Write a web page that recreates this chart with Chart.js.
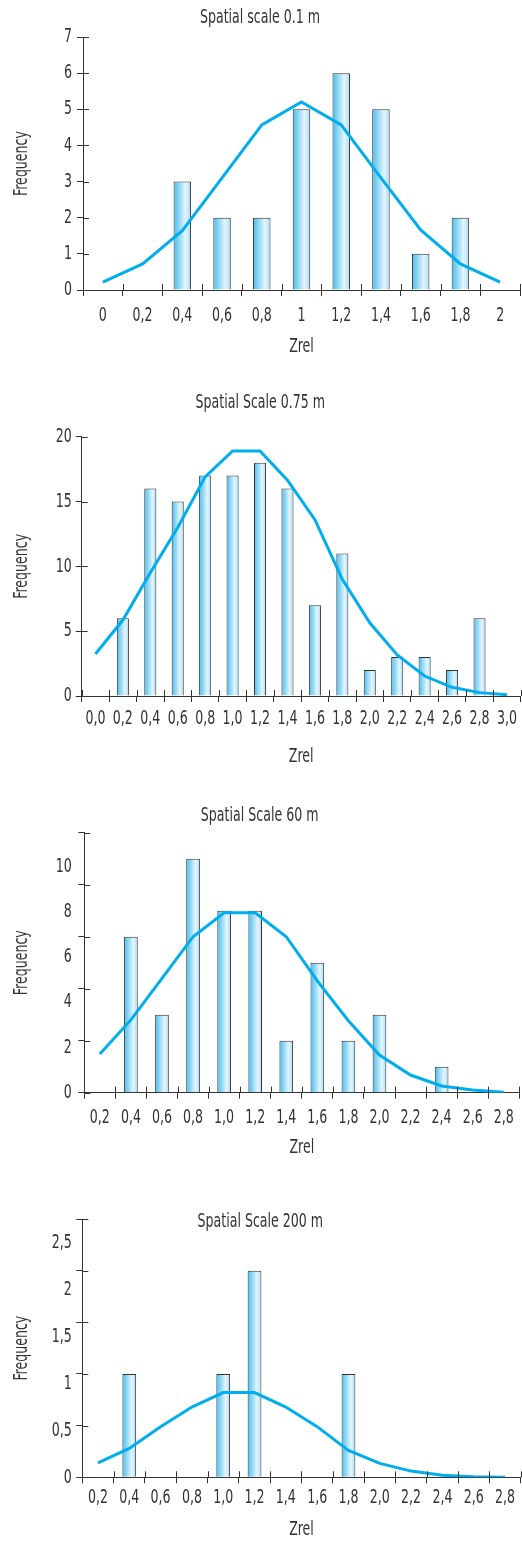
<!DOCTYPE html>
<html>
<head>
<meta charset="utf-8">
<script src="https://cdn.jsdelivr.net/npm/chart.js@4.4.1/dist/chart.umd.min.js"></script>
<style>
html,body{margin:0;padding:0;background:#fff;}
body{width:522px;height:1542px;position:relative;overflow:hidden;}
.box{position:absolute;left:0;width:522px;}
</style>
</head>
<body>
<div class="box" style="top:0px;height:357px"><canvas id="c1"></canvas></div>
<div class="box" style="top:360px;height:407px"><canvas id="c2"></canvas></div>
<div class="box" style="top:770px;height:388px"><canvas id="c3"></canvas></div>
<div class="box" style="top:1160px;height:380px"><canvas id="c4"></canvas></div>
<script>
// ---------- data ----------
const labels01 = ['0','0,2','0,4','0,6','0,8','1','1,2','1,4','1,6','1,8','2'];
const freq01 = [0,0,3,2,2,5,6,5,1,2,0];
const normal01 = [0.22,0.72,1.64,3.1,4.57,5.2,4.57,3.1,1.66,0.72,0.22];
const yLabels01 = ['0','1','2','3','4','5','6','7'];

const labels075 = ['0,0','0,2','0,4','0,6','0,8','1,0','1,2','1,4','1,6','1,8','2,0','2,2','2,4','2,6','2,8','3,0'];
const freq075 = [0,6,16,15,17,17,18,16,7,11,2,3,3,2,6,0];
const normal075 = [3.24,5.86,9.5,13.0,16.9,18.9,18.9,16.65,13.6,9.0,5.65,3.16,1.54,0.67,0.26,0.1];
const yLabels075 = ['0','5','10','15','20'];

const labels60 = ['0,2','0,4','0,6','0,8','1,0','1,2','1,4','1,6','1,8','2,0','2,2','2,4','2,6','2,8'];
const freq60 = [0,6,3,9,7,7,2,5,2,3,0,1,0,0];
const normal60 = [1.49,2.8,4.4,6.0,6.92,6.92,6.0,4.3,2.77,1.45,0.68,0.26,0.1,0.02];
const yLabels60 = ['0','2','4','6','8','10'];

const labels200 = ['0,2','0,4','0,6','0,8','1,0','1,2','1,4','1,6','1,8','2,0','2,2','2,4','2,6','2,8'];
const freq200 = [0,1,0,0,1,2,0,0,1,0,0,0,0,0];
const normal200 = [0.14,0.28,0.49,0.68,0.82,0.82,0.68,0.49,0.26,0.135,0.06,0.02,0.005,0];
const yLabels200 = ['0','0,5','1','1,5','2','2,5'];

// ---------- style ----------
const FONT = '"DejaVu Sans Condensed","DejaVu Sans",sans-serif';
const TXT = '#333333';
const AXIS = '#333333';
const LINE = '#00aeef';
const BAR_PCT = 0.44;
const TICK = 6;
const TICK_SIZE = 20;
const TITLE_SIZE = 20;
const SQUEEZE = 0.7;   // narrow the glyphs to imitate a condensed face

function condense(canvas, sx) {
  const c = canvas.getContext('2d');
  const ft = c.fillText.bind(c), mt = c.measureText.bind(c);
  c.fillText = function (t, x, y, mw) {
    this.save();
    this.translate(x, y);
    this.scale(sx, 1);
    if (mw === undefined || mw === null) ft(t, 0, 0); else ft(t, 0, 0, mw / sx);
    this.restore();
  };
  c.measureText = function (t) {
    const m = mt(t);
    return {width: m.width * sx,
            actualBoundingBoxAscent: m.actualBoundingBoxAscent,
            actualBoundingBoxDescent: m.actualBoundingBoxDescent,
            actualBoundingBoxLeft: m.actualBoundingBoxLeft * sx,
            actualBoundingBoxRight: m.actualBoundingBoxRight * sx};
  };
  return canvas;
}

function barFill(ctx) {
  const ch = ctx.chart, xs = ch.scales.x;
  if (ctx.type !== 'data' || !ch.chartArea || !xs) return '#8fd8f5';
  const n = xs.getLabels().length;
  const cx = xs.getPixelForValue(ctx.dataIndex);
  const w = xs.width / n * BAR_PCT;
  const g = ch.ctx.createLinearGradient(cx - w / 2, 0, cx + w / 2, 0);
  g.addColorStop(0, '#45bdee');
  g.addColorStop(0.68, '#e4f5fd');
  g.addColorStop(1, '#a6dcf4');
  return g;
}

const crossTicks = {
  id: 'crossTicks',
  afterDraw(chart) {
    const c = chart.ctx;
    const xs = chart.scales.x, ys = chart.scales.y;
    c.save();
    c.strokeStyle = AXIS; c.lineWidth = 1;
    c.beginPath();
    const n = xs.getLabels().length;
    for (let i = 0; i <= n; i++) {
      const px = Math.round(xs.getPixelForValue(i - 0.5)) + 0.5;
      c.moveTo(px, xs.top); c.lineTo(px, xs.top - TICK);
    }
    ys.ticks.forEach((t, i) => {
      const py = Math.round(ys.getPixelForTick(i)) + 0.5;
      c.moveTo(ys.right, py); c.lineTo(ys.right + TICK, py);
    });
    c.stroke();
    c.restore();
  }
};

function build(id, p) {
  const tickFont = {family: FONT, size: TICK_SIZE};
  const titleFont = {family: FONT, size: TITLE_SIZE, lineHeight: 1};
  const scales = {
    x: {
      type: 'category', offset: true,
      grid: {offset: true, drawOnChartArea: false, drawTicks: true, tickLength: TICK, color: AXIS},
      border: {color: AXIS, width: 1},
      ticks: {color: TXT, font: tickFont, padding: p.xPad, maxRotation: 0, autoSkip: false},
      title: {display: true, text: 'Zrel', color: TXT, font: titleFont, padding: {top: p.xtPad, bottom: 0}}
    }
  };
  const yTitle = {display: true, text: 'Frequency', color: TXT, font: titleFont, padding: {top: 12, bottom: 0}};
  if (!p.y2max) {
    scales.y = {
      position: 'left', min: 0, max: p.ymax,
      grid: {drawOnChartArea: false, tickLength: TICK, color: AXIS},
      border: {color: AXIS, width: 1},
      ticks: {stepSize: p.ystep, color: TXT, font: tickFont, padding: p.yPad,
              callback: (v, i) => p.ylabels[i]},
      title: yTitle,
      afterFit: s => { s.width = p.axisX; }
    };
  } else {
    scales.y = {
      position: 'left', min: 0, max: p.ymax, weight: 0,
      grid: {drawOnChartArea: false, tickLength: TICK, color: AXIS},
      border: {color: AXIS, width: 1},
      ticks: {stepSize: p.ystep, display: false},
      afterFit: s => { s.width = TICK; }
    };
    scales.y2 = {
      position: 'left', min: 0, max: p.y2max, weight: 1,
      grid: {display: false, drawTicks: false, drawOnChartArea: false},
      border: {display: false},
      ticks: {stepSize: p.ystep, includeBounds: false, color: TXT, font: tickFont, padding: p.yPad,
              callback: (v, i) => p.ylabels[i]},
      title: yTitle,
      afterFit: s => { s.width = p.axisX - TICK; }
    };
  }
  return new Chart(condense(document.getElementById(id), SQUEEZE), {
    data: {
      labels: p.labels,
      datasets: [
        {type: 'line', data: p.normal, borderColor: LINE, borderWidth: 3, pointRadius: 0,
         tension: 0, fill: false, order: 0, yAxisID: 'y'},
        {type: 'bar', data: p.freq, backgroundColor: barFill, borderColor: AXIS, borderWidth: 1,
         barPercentage: BAR_PCT, categoryPercentage: 1, order: 1, yAxisID: 'y'}
      ]
    },
    options: {
      responsive: true, maintainAspectRatio: false, animation: false,
      layout: {padding: {left: 0, right: p.padR, top: 0, bottom: 0}},
      plugins: {
        legend: {display: false}, tooltip: {enabled: false},
        title: {display: true, text: p.title, color: TXT,
                font: {family: FONT, size: TITLE_SIZE, weight: 'normal', lineHeight: 1.2},
                padding: {top: p.tPadTop, bottom: p.tPadBottom}}
      },
      scales: scales
    },
    plugins: [crossTicks]
  });
}

build('c1', {labels: labels01, freq: freq01, normal: normal01, ylabels: yLabels01,
  title: 'Spatial scale 0.1 m', ymax: 7, ystep: 1, axisX: 83, yPad: 5, xPad: 8, xtPad: 1,
  tPadTop: 6, tPadBottom: 7, padR: 2});
build('c2', {labels: labels075, freq: freq075, normal: normal075, ylabels: yLabels075,
  title: 'Spatial Scale 0.75 m', ymax: 20, ystep: 5, axisX: 81.7, yPad: 4, xPad: 5, xtPad: 11,
  tPadTop: 31, tPadBottom: 21.7, padR: 1.3});
build('c3', {labels: labels60, freq: freq60, normal: normal60, ylabels: yLabels60,
  title: 'Spatial Scale 60 m', ymax: 10, y2max: 11.5, ystep: 2, axisX: 84.3, yPad: 6.6, xPad: 7.3, xtPad: 0.7,
  tPadTop: 34, tPadBottom: 4.7, padR: 2.7});
build('c4', {labels: labels200, freq: freq200, normal: normal200, ylabels: yLabels200,
  title: 'Spatial Scale 200 m', ymax: 2.5, y2max: 2.75, ystep: 0.5, axisX: 82.3, yPad: 4.6, xPad: 2.7, xtPad: 7.3,
  tPadTop: 50, tPadBottom: -15, padR: 1.3});
</script>
</body>
</html>
